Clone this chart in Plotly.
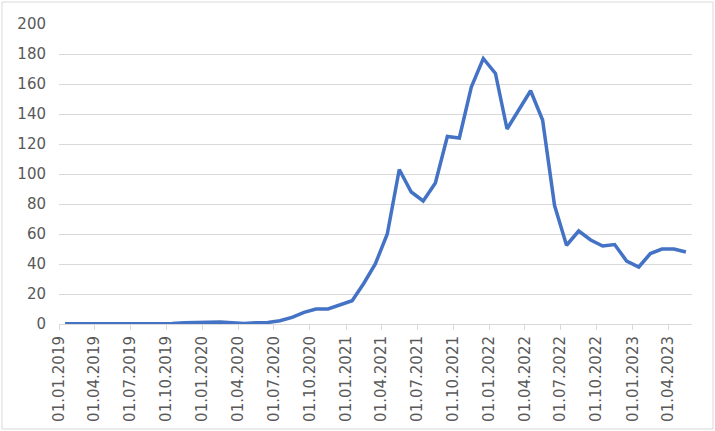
import plotly.graph_objects as go

# monthly values, Jan 2019 .. May 2023
months = [
    "2019-01-01", "2019-02-01", "2019-03-01", "2019-04-01", "2019-05-01", "2019-06-01",
    "2019-07-01", "2019-08-01", "2019-09-01", "2019-10-01", "2019-11-01", "2019-12-01",
    "2020-01-01", "2020-02-01", "2020-03-01", "2020-04-01", "2020-05-01", "2020-06-01",
    "2020-07-01", "2020-08-01", "2020-09-01", "2020-10-01", "2020-11-01", "2020-12-01",
    "2021-01-01", "2021-02-01", "2021-03-01", "2021-04-01", "2021-05-01", "2021-06-01",
    "2021-07-01", "2021-08-01", "2021-09-01", "2021-10-01", "2021-11-01", "2021-12-01",
    "2022-01-01", "2022-02-01", "2022-03-01", "2022-04-01", "2022-05-01", "2022-06-01",
    "2022-07-01", "2022-08-01", "2022-09-01", "2022-10-01", "2022-11-01", "2022-12-01",
    "2023-01-01", "2023-02-01", "2023-03-01", "2023-04-01", "2023-05-01",
]
values = [
    0.1, 0.1, 0.1, 0.2, 0.2, 0.2, 0.2, 0.3, 0.3, 0.4, 0.8, 1.2,
    1.2, 1.3, 1.0, 0.3, 0.8, 1.0, 2.2, 4.4, 7.8, 10.0, 10.0, 13.0,
    15.5, 27, 40, 60, 103, 88, 82, 94, 125, 124, 158, 177,
    167, 130, 143, 155.5, 136, 79, 52.5, 62, 56, 52, 53, 42,
    38, 47, 50, 50, 48,
]

GRID = "#d9d9d9"
TXT = "#595959"
FONT = "DejaVu Sans"

fig = go.Figure(go.Scatter(
    x=months,
    y=values,
    xperiod="M1",
    xperiodalignment="middle",
    mode="lines",
    line=dict(color="#4472C4", width=3.5),
    hoverinfo="x+y",
))

W, H = 715, 431
ml, mr, mt, mb = 59, 23, 24, 107

fig.update_layout(
    width=W, height=H,
    margin=dict(l=ml, r=mr, t=mt, b=mb),
    paper_bgcolor="white",
    plot_bgcolor="white",
    showlegend=False,
    font=dict(family=FONT, size=15, color=TXT),
)

fig.update_xaxes(
    type="date",
    automargin=False,
    range=["2019-01-01", "2023-06-01"],
    tick0="2019-01-01",
    dtick="M3",
    tickformat="%d.%m.%Y",
    tickangle=-90,
    ticks="outside",
    ticklen=5,
    tickcolor=GRID,
    showline=True,
    linecolor=GRID,
    linewidth=1,
    showgrid=False,
    tickfont=dict(family=FONT, size=15, color=TXT),
)

fig.update_yaxes(
    automargin=False,
    range=[0, 200],
    dtick=20,
    showgrid=True,
    gridcolor=GRID,
    gridwidth=1,
    zeroline=False,
    showline=False,
    ticks="",
    ticklabelstandoff=12,
    tickfont=dict(family=FONT, size=15, color=TXT),
)

# thin border around the whole chart area
pw, ph = W - ml - mr, H - mt - mb
fig.add_shape(
    type="rect", xref="paper", yref="paper",
    x0=(2 - ml) / pw, x1=(W - 2 - ml) / pw,
    y0=-(H - 2 - mt - ph) / ph, y1=(ph + mt - 2) / ph,
    line=dict(color=GRID, width=1),
    layer="below",
)

# drop the default page margin so the figure sits at the window's corner
fig.write_html(
    "out.html",
    config={"displayModeBar": False},
    post_script="document.body.style.margin='0';",
)
